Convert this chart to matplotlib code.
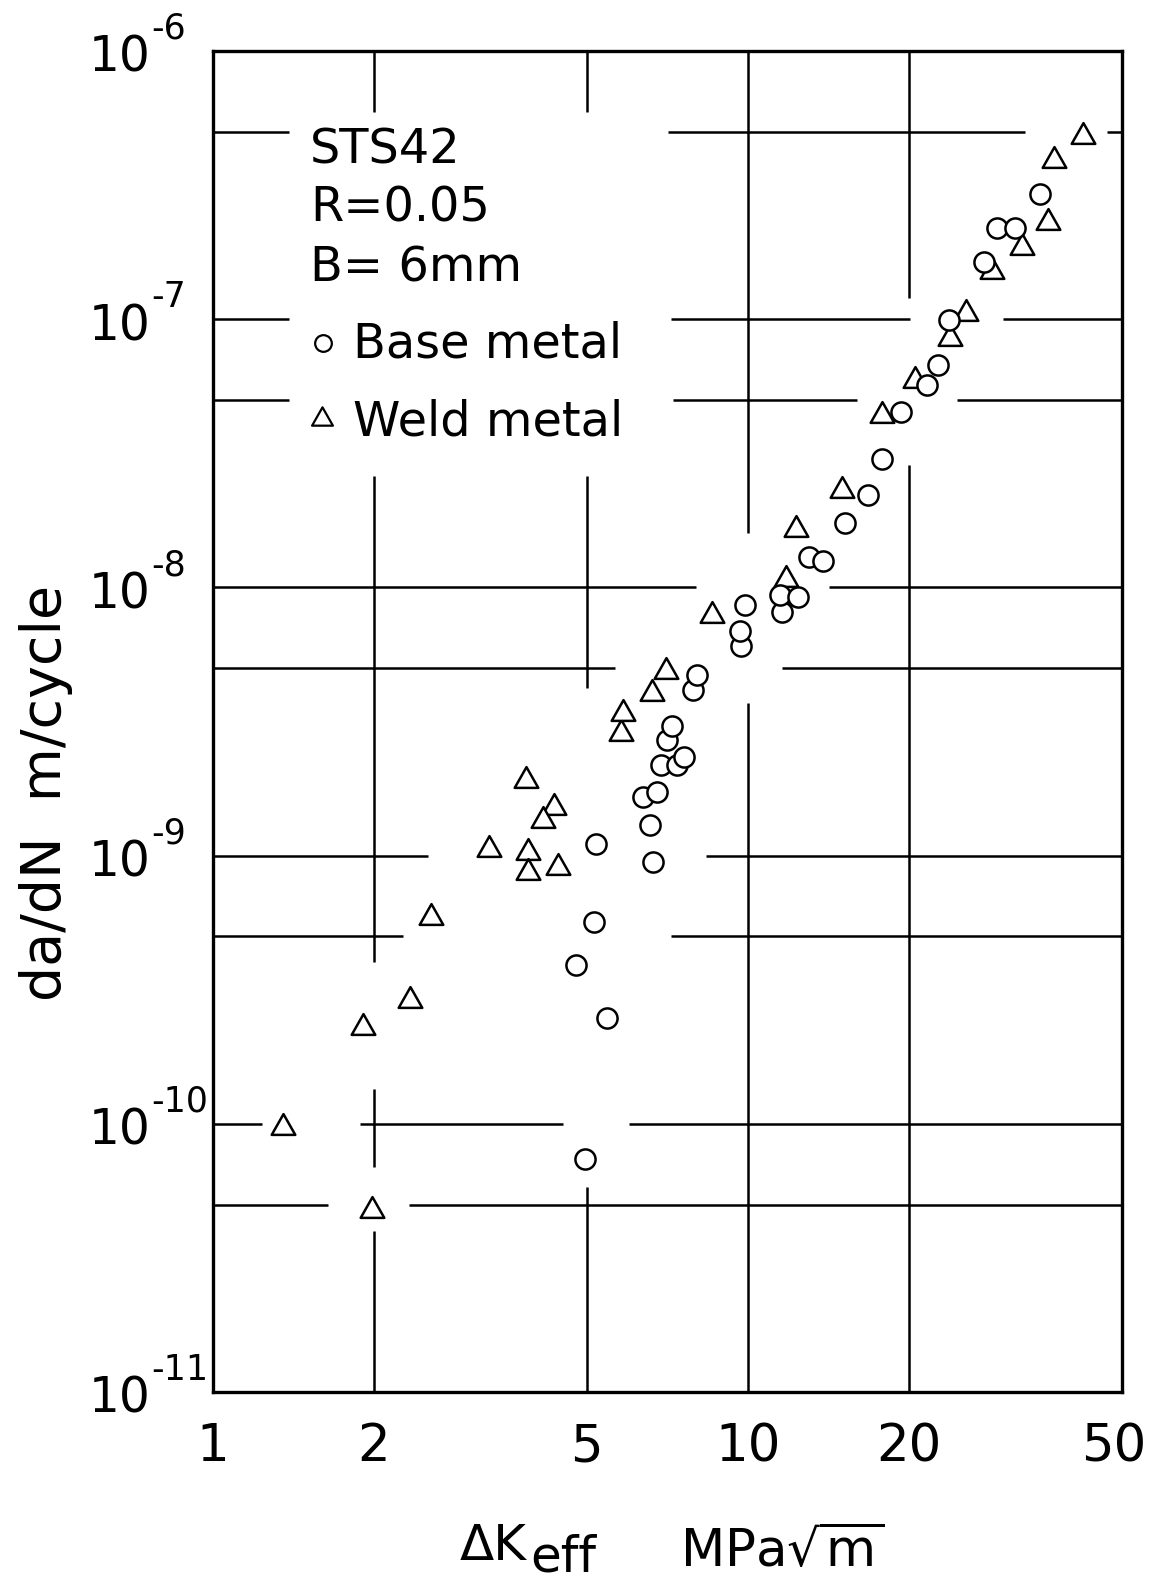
import matplotlib
matplotlib.use("Agg")
import matplotlib.pyplot as plt
from matplotlib.lines import Line2D
from matplotlib.markers import MarkerStyle
from matplotlib.path import Path

plt.rcParams['font.family'] = ['DejaVu Sans']
plt.rcParams['mathtext.default'] = 'regular'

# base metal, da/dN vs dK_eff
base_dk = [4.97, 5.46, 4.77, 5.15, 5.2, 6.64, 6.57, 6.37, 6.77, 6.89, 7.38, 7.61,
           7.06, 7.22, 7.9, 8.04, 9.72, 9.65, 9.89, 11.6, 11.5, 12.4, 13.0, 13.8,
           15.2, 16.8, 17.8, 19.3, 21.6, 22.7, 23.8, 27.6, 29.2, 31.5, 35.2]
base_dadn = [7.4e-11, 2.47e-10, 3.9e-10, 5.64e-10, 1.1e-9, 9.5e-10, 1.3e-9, 1.66e-9,
             1.73e-9, 2.18e-9, 2.18e-9, 2.33e-9, 2.69e-9, 3.03e-9, 4.15e-9, 4.72e-9,
             6.05e-9, 6.9e-9, 8.57e-9, 8.13e-9, 9.4e-9, 9.2e-9, 1.30e-8, 1.25e-8,
             1.74e-8, 2.21e-8, 3.0e-8, 4.5e-8, 5.7e-8, 6.76e-8, 9.9e-8, 1.64e-7,
             2.19e-7, 2.19e-7, 2.92e-7]

# weld metal
weld_dk = [1.355, 1.99, 1.91, 2.34, 2.56, 3.28, 3.88, 3.89, 4.42, 3.85, 4.34, 4.14,
           5.80, 5.84, 6.62, 7.04, 8.57, 11.8, 12.3, 15.0, 17.8, 20.5, 23.9, 25.6,
           28.6, 32.5, 36.3, 37.3, 42.3]
weld_dadn = [1.0e-10, 4.9e-11, 2.36e-10, 2.96e-10, 6.07e-10, 1.09e-9, 1.06e-9, 8.9e-10,
             9.3e-10, 1.96e-9, 1.56e-9, 1.39e-9, 2.95e-9, 3.5e-9, 4.13e-9, 5.0e-9,
             8.13e-9, 1.10e-8, 1.70e-8, 2.36e-8, 4.5e-8, 6.1e-8, 8.75e-8, 1.08e-7,
             1.55e-7, 1.91e-7, 2.36e-7, 4.02e-7, 4.94e-7]

x_ticks = [1, 2, 5, 10, 20, 50]
y_decades = [-6, -7, -8, -9, -10, -11]
notes = ['STS42', 'R=0.05', 'B= 6mm']

# hand-drawn grid: line pieces left open around points and text
vgrid = [
    (2, [(1e-6, 5.9e-7), (2.6e-8, 4.0e-10), (1.35e-10, 6.9e-11), (4.0e-11, 1e-11)]),
    (5, [(1e-6, 5.9e-7), (2.6e-8, 4.2e-9), (5.8e-11, 1e-11)]),
    (10, [(1e-6, 1.6e-8), (3.7e-9, 1e-11)]),
    (20, [(1e-6, 1.2e-7), (2.85e-8, 1e-11)]),
]
hgrid = [
    (5e-7, [(1, 1.39), (7.1, 33.0), (46.9, 50)]),
    (1e-7, [(1, 1.39), (7.2, 20.1), (30.0, 50)]),
    (5e-8, [(1, 1.39), (7.25, 16.0), (24.6, 50)]),
    (1e-8, [(1, 8.0), (14.2, 50)]),
    (5e-9, [(1, 5.65), (11.6, 50)]),
    (1e-9, [(1, 2.53), (8.36, 50)]),
    (5e-10, [(1, 2.27), (7.18, 50)]),
    (1e-10, [(1, 1.237), (1.89, 4.52), (6.0, 50)]),
    (5e-11, [(1, 1.64), (2.33, 50)]),
]

W, H = 1152, 1584
fig = plt.figure(figsize=(W / 100, H / 100), dpi=100)
ax = fig.add_axes([212.5 / W, (H - 1392) / H, 909.5 / W, 1341 / H])
ax.set_xscale('log')
ax.set_yscale('log')
ax.set_xlim(1, 50)
ax.set_ylim(1e-11, 1e-6)
for s in ax.spines.values():
    s.set_linewidth(2.4)
ax.tick_params(which='both', length=0, labelbottom=False, labelleft=False)
ax.minorticks_off()

for x, pieces in vgrid:
    for y0, y1 in pieces:
        ax.plot([x, x], [y0, y1], color='k', lw=1.8, solid_capstyle='butt', zorder=1)
for y, pieces in hgrid:
    for x0, x1 in pieces:
        ax.plot([x0, x1], [y, y], color='k', lw=1.8, solid_capstyle='butt', zorder=1)

tri = MarkerStyle(Path([(0, 0.88), (-1, -0.88), (1, -0.88), (0, 0)],
                       [Path.MOVETO, Path.LINETO, Path.LINETO, Path.CLOSEPOLY]),
                  joinstyle='miter')

ax.plot(weld_dk, weld_dadn, ls='none', marker=tri, ms=17, mfc='white', mec='k',
        mew=1.8, zorder=3, clip_on=False)
ax.plot(base_dk, base_dadn, ls='none', marker='o', ms=14.5, mfc='white', mec='k',
        mew=1.8, zorder=4, clip_on=False)

# tick labels: "10" with the exponent set up to its right
for d in y_decades:
    ax.annotate('10', xy=(0, 10.0 ** d), xycoords=('axes fraction', 'data'),
                xytext=(-62, -21), textcoords='offset pixels', ha='right',
                va='baseline', fontsize=35, annotation_clip=False)
    ax.annotate('-%d' % -d, xy=(0, 10.0 ** d), xycoords=('axes fraction', 'data'),
                xytext=(-61, 12), textcoords='offset pixels', ha='left',
                va='baseline', fontsize=25, annotation_clip=False)
for v in x_ticks:
    dx = -8 if v == x_ticks[-1] else 0
    ax.annotate(str(v), xy=(v, 0), xycoords=('data', 'axes fraction'),
                xytext=(dx, -69), textcoords='offset pixels', ha='center',
                va='baseline', fontsize=37, annotation_clip=False)

# axis titles
fig.text(460 / W, 1 - 1560 / H, 'ΔK', fontsize=36, va='baseline')
fig.text(530 / W, 1 - 1572 / H, 'eff', fontsize=36, va='baseline')
fig.text(680 / W, 1 - 1566 / H, r'MPa$\sqrt{m}$', fontsize=37, va='baseline')
fig.text(46 / W, 1 - 793 / H, 'da/dN  m/cycle', fontsize=40, rotation=90,
         ha='center', va='center')

# key block inside the plot
for txt, yb in zip(notes, [163, 222, 282]):
    fig.text(310 / W, 1 - yb / H, txt, fontsize=34.5, va='baseline')
fig.text(353 / W, 1 - 357 / H, 'Base metal', fontsize=34.5, va='baseline')
fig.text(353 / W, 1 - 435 / H, 'Weld metal', fontsize=34.5, va='baseline')
fig.add_artist(Line2D([323 / W], [1 - 343 / H], marker='o', ms=12, mfc='white',
                      mec='k', mew=1.6, transform=fig.transFigure))
fig.add_artist(Line2D([322 / W], [1 - 416 / H], marker=tri, ms=15, mfc='white',
                      mec='k', mew=1.6, transform=fig.transFigure))

fig.savefig('out.png', dpi=100, facecolor='white')
